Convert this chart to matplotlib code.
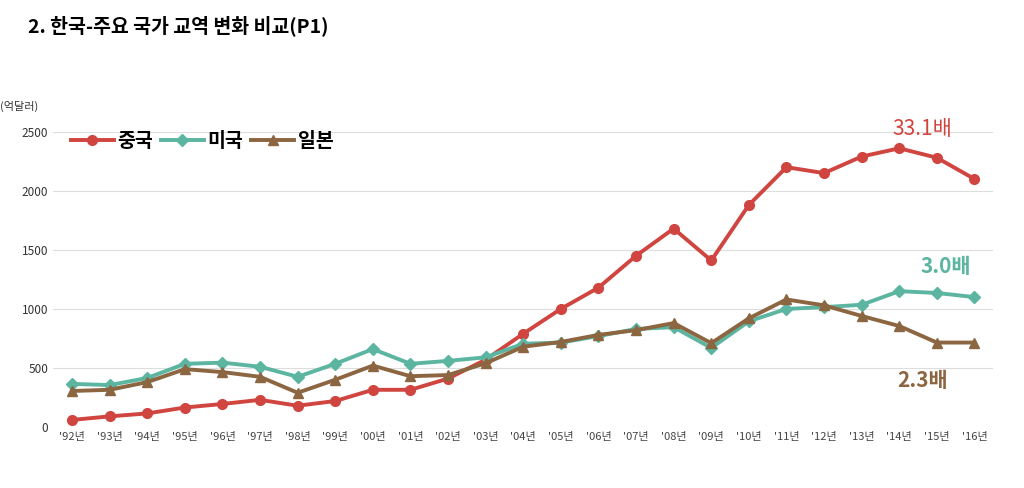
import matplotlib
matplotlib.use("Agg")
import matplotlib.pyplot as plt

plt.rcParams["font.family"] = ["Noto Sans CJK JP", "Noto Sans CJK KR", "Noto Sans CJK SC", "DejaVu Sans"]

years = ["'92년", "'93년", "'94년", "'95년", "'96년", "'97년", "'98년", "'99년", "'00년",
         "'01년", "'02년", "'03년", "'04년", "'05년", "'06년", "'07년", "'08년", "'09년",
         "'10년", "'11년", "'12년", "'13년", "'14년", "'15년", "'16년"]
china = [60, 90, 115, 165, 195, 230, 180, 220, 315, 315, 410, 570, 790, 1000, 1180,
         1450, 1680, 1410, 1880, 2200, 2150, 2290, 2360, 2280, 2100]
usa = [365, 355, 415, 535, 545, 510, 425, 535, 660, 535, 560, 590, 705, 715, 770,
       830, 845, 670, 895, 1000, 1015, 1035, 1150, 1135, 1100]
japan = [305, 315, 380, 490, 465, 425, 290, 400, 520, 430, 440, 540, 680, 720, 780,
         820, 880, 710, 920, 1080, 1030, 940, 855, 715, 715]

red, teal, brown = "#d0453f", "#5bb5a0", "#8c6541"

fig = plt.figure(figsize=(10.24, 4.88), dpi=100)
ax = fig.add_axes([0.052, 0.125, 0.918, 0.605])
x = range(len(years))
ax.plot(x, china, color=red, lw=2.8, marker="o", ms=7, label="중국")
ax.plot(x, usa, color=teal, lw=2.8, marker="D", ms=6, label="미국")
ax.plot(x, japan, color=brown, lw=2.8, marker="^", ms=7, label="일본")

ax.set_ylim(0, 2500)
ax.set_yticks([0, 500, 1000, 1500, 2000, 2500])
ax.set_xlim(-0.5, len(years) - 0.5)
ax.set_xticks(list(x))
ax.set_xticklabels(years, fontsize=8, color="#444444")
ax.tick_params(axis="y", labelsize=8.5, colors="#333333", length=0)
ax.tick_params(axis="x", length=0)
ax.grid(axis="y", color="#dddddd", lw=0.8)
for s in ax.spines.values():
    s.set_visible(False)

fig.text(0.0, 0.775, "(억달러)", fontsize=8, color="#333333")
fig.text(0.027, 0.935, "2. 한국-주요 국가 교역 변화 비교(P1)", fontsize=14, fontweight="bold")

ax.legend(loc="upper left", bbox_to_anchor=(0.0, 1.06), ncol=3, frameon=False,
          handlelength=2.2, columnspacing=0.4, handletextpad=0.2,
          prop={"weight": "bold", "size": 14})
ax.text(23.4, 2470, "33.1배", color=red, fontsize=15, ha="right")
ax.text(23.9, 1300, "3.0배", color=teal, fontsize=15, fontweight="bold", ha="right")
ax.text(23.3, 340, "2.3배", color=brown, fontsize=15, fontweight="bold", ha="right")

fig.savefig("out.png", dpi=100)
